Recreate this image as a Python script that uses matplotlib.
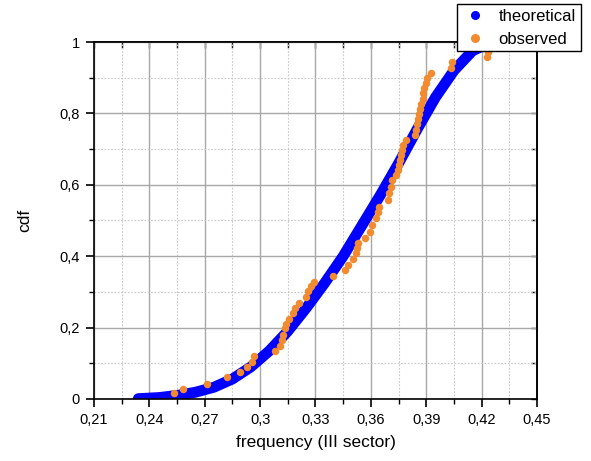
import matplotlib
matplotlib.use("Agg")
import matplotlib.pyplot as plt
from matplotlib.lines import Line2D
from matplotlib.ticker import FixedLocator, MultipleLocator

plt.rcParams["font.family"] = ["Liberation Sans", "DejaVu Sans"]

# Theoretical cumulative distribution (frequency, cdf)
theo_freq = [0.234, 0.245, 0.255, 0.265, 0.275, 0.285, 0.295, 0.305, 0.315,
             0.325, 0.335, 0.345, 0.355, 0.365, 0.375, 0.385, 0.395, 0.405,
             0.415, 0.425]
theo_cdf = [0.001, 0.004, 0.010, 0.019, 0.033, 0.056, 0.090, 0.135, 0.190,
            0.255, 0.325, 0.400, 0.485, 0.570, 0.660, 0.755, 0.845, 0.920,
            0.975, 1.000]

# Observed (empirical) cumulative distribution
obs_freq = [0.2533, 0.2582, 0.2712, 0.2820, 0.2890, 0.2929, 0.2954, 0.2967,
            0.3080, 0.3108, 0.3117, 0.3122, 0.3135, 0.3140, 0.3158, 0.3180,
            0.3191, 0.3211, 0.3247, 0.3261, 0.3274, 0.3292, 0.3396, 0.3460,
            0.3478, 0.3505, 0.3520, 0.3525, 0.3529, 0.3568, 0.3595, 0.3608,
            0.3626, 0.3640, 0.3645, 0.3694, 0.3700, 0.3707, 0.3713, 0.3736,
            0.3745, 0.3754, 0.3758, 0.3762, 0.3767, 0.3776, 0.3790, 0.3839,
            0.3846, 0.3852, 0.3857, 0.3862, 0.3868, 0.3874, 0.3880, 0.3885,
            0.3890, 0.3897, 0.3906, 0.3926, 0.4032, 0.4041, 0.4230, 0.4233]
obs_cdf = [0.017, 0.028, 0.042, 0.062, 0.076, 0.090, 0.105, 0.120,
           0.135, 0.148, 0.165, 0.179, 0.199, 0.209, 0.223, 0.240,
           0.254, 0.270, 0.287, 0.303, 0.317, 0.329, 0.345, 0.361,
           0.375, 0.391, 0.408, 0.422, 0.436, 0.450, 0.469, 0.487,
           0.506, 0.525, 0.539, 0.557, 0.576, 0.595, 0.613, 0.627,
           0.641, 0.655, 0.669, 0.684, 0.698, 0.711, 0.725, 0.740,
           0.754, 0.769, 0.783, 0.798, 0.812, 0.827, 0.841, 0.856,
           0.870, 0.885, 0.899, 0.912, 0.928, 0.943, 0.957, 0.972]

x_ticks = [0.21, 0.24, 0.27, 0.30, 0.33, 0.36, 0.39, 0.42, 0.45]
x_tick_labels = ["0,21", "0,24", "0,27", "0,3", "0,33", "0,36", "0,39", "0,42", "0,45"]
y_ticks = [0.0, 0.2, 0.4, 0.6, 0.8, 1.0]
y_tick_labels = ["0", "0,2", "0,4", "0,6", "0,8", "1"]

BLUE = "#0000ff"
ORANGE = "#f28a30"

W, H = 591, 461
fig = plt.figure(figsize=(W / 100, H / 100), dpi=100)
ax = fig.add_axes([94 / W, 1 - 399 / H, (537 - 94) / W, (399 - 42) / H])

ax.set_xlim(0.21, 0.45)
ax.set_ylim(0, 1)

# grid
ax.set_axisbelow(True)
ax.xaxis.set_major_locator(FixedLocator(x_ticks))
ax.yaxis.set_major_locator(FixedLocator(y_ticks))
ax.xaxis.set_minor_locator(MultipleLocator(0.015))
ax.yaxis.set_minor_locator(MultipleLocator(0.1))
ax.grid(which="major", color="#a8a8a8", linewidth=1.0, linestyle="-")
ax.grid(which="minor", color="#c8c8c8", linewidth=0.8, linestyle=(0, (1.5, 1.5)))

# curves
ax.plot(theo_freq, theo_cdf, color=BLUE, linewidth=7.8, solid_capstyle="round",
        solid_joinstyle="round", zorder=2)
ax.plot(obs_freq, obs_cdf, "o", color=ORANGE, markersize=5.4,
        markeredgewidth=0, zorder=3)

ax.set_xticklabels(x_tick_labels)
ax.set_yticklabels(y_tick_labels)
ax.tick_params(axis="both", which="major", direction="out", length=6, width=1.2,
               labelsize=10.5, color="black", pad=4)
ax.tick_params(axis="both", which="minor", direction="out", length=3.5, width=1.0)

for s in ax.spines.values():
    s.set_linewidth(1.2)
    s.set_color("black")

# inward ticks on the top and right frame
top = ax.secondary_xaxis("top")
top.xaxis.set_major_locator(FixedLocator(x_ticks))
top.xaxis.set_minor_locator(MultipleLocator(0.015))
top.tick_params(which="both", direction="in", length=4, width=1.0, labeltop=False)
top.spines["top"].set_linewidth(1.2)
right = ax.secondary_yaxis("right")
right.yaxis.set_major_locator(FixedLocator(y_ticks))
right.yaxis.set_minor_locator(MultipleLocator(0.1))
right.tick_params(which="both", direction="in", length=4, width=1.0, labelright=False)
right.spines["right"].set_linewidth(1.2)

ax.set_xlabel("frequency (III sector)", fontsize=12.5, labelpad=6)
ax.set_ylabel("cdf", fontsize=12.5, labelpad=20)

handles = [
    Line2D([], [], marker="o", linestyle="", color=BLUE, markersize=5.5, label="theoretical"),
    Line2D([], [], marker="o", linestyle="", color=ORANGE, markersize=5.5, label="observed"),
]
leg = fig.legend(handles=handles, loc="upper left", bbox_to_anchor=(457 / W, 1 - 4 / H),
                 fontsize=12, frameon=True, fancybox=False, framealpha=1,
                 edgecolor="black", borderpad=0.3, handletextpad=0.6,
                 handlelength=1.6, labelspacing=0.45, borderaxespad=0)
leg.get_frame().set_linewidth(1.0)
leg.set_zorder(10)

fig.savefig("out.png", dpi=100)
